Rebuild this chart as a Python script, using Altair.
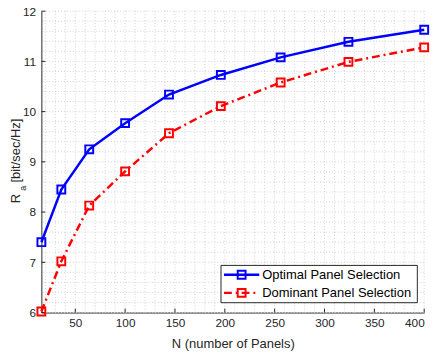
import altair as alt
import pandas as pd

# ---- data ----
N = [16, 36, 64, 100, 144, 196, 256, 324, 400]
optimal = [7.40, 8.45, 9.25, 9.77, 10.34, 10.73, 11.08, 11.39, 11.63]
dominant = [6.02, 7.02, 8.13, 8.81, 9.57, 10.11, 10.58, 10.99, 11.28]
series_names = ["Optimal Panel Selection", "Dominant Panel Selection"]

x_ticks = [50, 100, 150, 200, 250, 300, 350, 400]
y_ticks = [6, 7, 8, 9, 10, 11, 12]
x_minor = [v for v in range(20, 400, 10) if v % 50 != 0]
y_minor = [round(6 + 0.2 * i, 1) for i in range(1, 30) if i % 5 != 0]

W, H = 390, 307
FONT = "Liberation Sans"
AX = "#262626"
GRID = "#d2d2d2"
MS = 64

xs = alt.Scale(domain=[16, 400], nice=False, zero=False)
ys = alt.Scale(domain=[6, 12], nice=False, zero=False)

xaxis = alt.Axis(values=x_ticks, ticks=False, grid=False, domainColor=AX, domainWidth=1,
                 labelColor=AX, labelFont=FONT, labelFontSize=12, labelPadding=5,
                 title="N (number of Panels)", titleFont=FONT, titleFontSize=13.2,
                 titleFontWeight="normal", titleColor=AX, titlePadding=10)
yaxis = alt.Axis(values=y_ticks, ticks=False, grid=False, domainColor=AX, domainWidth=1,
                 labelColor=AX, labelFont=FONT, labelFontSize=12, labelPadding=6,
                 title=None)

df = pd.DataFrame({"N": N * 2,
                   "R": optimal + dominant,
                   "s": [series_names[0]] * len(N) + [series_names[1]] * len(N)})
df_opt = df[df.s == series_names[0]]
df_dom = df[df.s == series_names[1]]

one = pd.DataFrame({"k": [0]})


def X(f):
    return alt.X(f, scale=xs, axis=xaxis)


def Y(f):
    return alt.Y(f, scale=ys, axis=yaxis)


# grids
gx = alt.Chart(pd.DataFrame({"x": x_minor + x_ticks})).mark_rule(
    color=GRID, strokeDash=[1, 2], strokeWidth=1).encode(x=X("x:Q"))
gy = alt.Chart(pd.DataFrame({"y": y_minor + y_ticks})).mark_rule(
    color=GRID, strokeDash=[1, 2], strokeWidth=1).encode(y=Y("y:Q"))

# inward ticks
tx = alt.Chart(pd.DataFrame({"x": x_ticks})).mark_rule(color=AX, strokeWidth=1).encode(
    x=X("x:Q"), y=alt.value(H), y2=alt.value(H - 4))
ty = alt.Chart(pd.DataFrame({"y": y_ticks})).mark_rule(color=AX, strokeWidth=1).encode(
    y=Y("y:Q"), x=alt.value(0), x2=alt.value(4))

line_opt = alt.Chart(df_opt).mark_line(color="#0000ff", strokeWidth=2.5).encode(
    x=X("N:Q"), y=Y("R:Q"))
pt_opt = alt.Chart(df_opt).mark_point(shape="square", filled=False, color="#0000ff",
                                      size=MS, strokeWidth=2, opacity=1).encode(
    x=X("N:Q"), y=Y("R:Q"))
line_dom = alt.Chart(df_dom).mark_line(color="#ff0000", strokeWidth=2.5,
                                       strokeDash=[8, 4, 2, 4]).encode(
    x=X("N:Q"), y=Y("R:Q"))
pt_dom = alt.Chart(df_dom).mark_point(shape="square", filled=False, color="#ff0000",
                                      size=MS, strokeWidth=2, opacity=1).encode(
    x=X("N:Q"), y=Y("R:Q"))

# y title: R with subscript a
yt_main = alt.Chart(one).mark_text(text="[bit/sec/Hz]", angle=270, font=FONT, fontSize=13.2,
                                   color=AX, align="center", baseline="middle").encode(
    x=alt.value(-26), y=alt.value(142))
yt_R = alt.Chart(one).mark_text(text="R", angle=270, font=FONT, fontSize=13.2,
                                color=AX, align="center", baseline="middle").encode(
    x=alt.value(-26), y=alt.value(191))
yt_a = alt.Chart(one).mark_text(text="a", angle=270, font=FONT, fontSize=9,
                                color=AX, align="center", baseline="middle").encode(
    x=alt.value(-19), y=alt.value(180.5))

# legend
LY1, LY2 = 268.5, 287
lg_box = alt.Chart(one).mark_rect(fill="white", stroke=AX, strokeWidth=1).encode(
    x=alt.value(183), x2=alt.value(383), y=alt.value(259), y2=alt.value(297))
lg_l1 = alt.Chart(one).mark_rule(color="#0000ff", strokeWidth=2.5).encode(
    x=alt.value(186), x2=alt.value(222), y=alt.value(LY1))
lg_p1 = alt.Chart(one).mark_point(shape="square", filled=False, color="#0000ff",
                                  size=MS, strokeWidth=2, opacity=1).encode(
    x=alt.value(204), y=alt.value(LY1))
lg_t1 = alt.Chart(one).mark_text(text=series_names[0], font=FONT, fontSize=13.2, color="black",
                                 align="left", baseline="middle").encode(
    x=alt.value(225), y=alt.value(LY1))
lg_l2 = alt.Chart(one).mark_rule(color="#ff0000", strokeWidth=2.5, strokeDash=[8, 4, 2, 4]).encode(
    x=alt.value(186), x2=alt.value(222), y=alt.value(LY2))
lg_p2 = alt.Chart(one).mark_point(shape="square", filled=False, color="#ff0000",
                                  size=MS, strokeWidth=2, opacity=1).encode(
    x=alt.value(204), y=alt.value(LY2))
lg_t2 = alt.Chart(one).mark_text(text=series_names[1], font=FONT, fontSize=13.2, color="black",
                                 align="left", baseline="middle").encode(
    x=alt.value(225), y=alt.value(LY2))

chart = alt.layer(
    gx, gy, tx, ty, line_opt, line_dom, pt_opt, pt_dom,
    yt_main, yt_R, yt_a,
    lg_box, lg_l1, lg_p1, lg_t1, lg_l2, lg_p2, lg_t2
).properties(
    width=W, height=H,
    autosize=alt.AutoSizeParams(type="none"),
    padding={"left": 34, "top": 0, "right": 11, "bottom": 38},
    background="white"
).configure_view(stroke=None)

chart.save("out.html", embed_options={"renderer": "svg", "actions": False})
